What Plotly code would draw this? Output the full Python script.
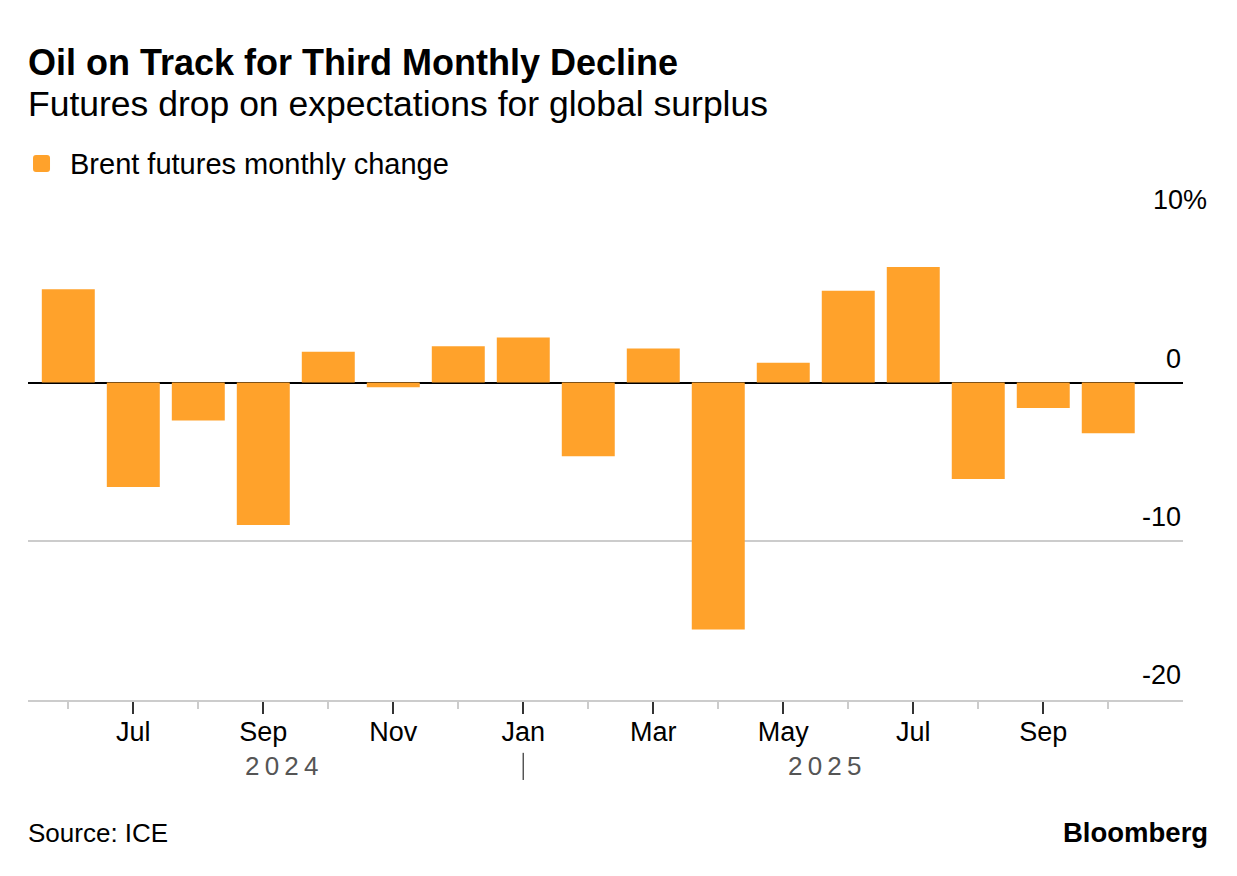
import plotly.graph_objects as go

months = ["2024-06", "2024-07", "2024-08", "2024-09", "2024-10", "2024-11", "2024-12",
          "2025-01", "2025-02", "2025-03", "2025-04", "2025-05", "2025-06", "2025-07",
          "2025-08", "2025-09", "2025-10"]
month_labels = ["Jun", "Jul", "Aug", "Sep", "Oct", "Nov", "Dec",
                "Jan", "Feb", "Mar", "Apr", "May", "Jun", "Jul",
                "Aug", "Sep", "Oct"]
brent_change = [5.9, -6.6, -2.4, -9.0, 1.95, -0.3, 2.3,
                2.85, -4.65, 2.15, -15.6, 1.25, 5.8, 7.3,
                -6.1, -1.6, -3.2]
y_ticks = [10, 0, -10, -20]
y_tick_labels = ["10%", "0", "-10", "-20"]
years = ["2024", "2025"]
year_pos = [3.28, 11.63]

FONT = "Liberation Sans"
ORANGE = "#FFA22B"

x = list(range(len(months)))
fig = go.Figure()
fig.add_trace(go.Bar(x=x, y=brent_change, marker=dict(color=ORANGE, line=dict(width=0)),
                     name="Brent futures monthly change", showlegend=False,
                     customdata=months, hovertemplate="%{customdata}: %{y}%<extra></extra>"))

major = [i for i in x if i % 2 == 1]
minor = [i for i in x if i % 2 == 0]

fig.update_layout(
    width=1237, height=876,
    margin=dict(l=20, r=62, t=216, b=184),
    paper_bgcolor="white", plot_bgcolor="white",
    bargap=0.185,
    font=dict(family=FONT, color="black"),
    xaxis=dict(range=[-0.62, 17.15], tickmode="array", tickvals=major,
               ticktext=[month_labels[i] for i in major],
               ticks="outside", ticklen=12, tickwidth=1.5, tickcolor="#333",
               ticklabelstandoff=-5,
               tickfont=dict(size=27, family=FONT, color="black"),
               showline=True, linecolor="#cccccc", linewidth=1.5,
               showgrid=False, zeroline=False, fixedrange=True,
               minor=dict(tickmode="array", tickvals=minor, ticks="outside",
                          ticklen=7, tickwidth=1.5, tickcolor="#cccccc", showgrid=False)),
    yaxis=dict(range=[-20.06, 10.02], tickmode="array", tickvals=y_ticks,
               showticklabels=False, showgrid=True, gridcolor="#cccccc", gridwidth=1.5,
               zeroline=True, zerolinecolor="black", zerolinewidth=2, fixedrange=True),
)

ann = []
for v, t in zip(y_ticks, y_tick_labels):
    shift = 26 if t.endswith("%") else 0
    ann.append(dict(x=1, xref="paper", y=v, yref="y", text=t, showarrow=False,
                    xanchor="right", yanchor="bottom", yshift=7, xshift=shift,
                    font=dict(size=27, family=FONT, color="black")))
for yr, p in zip(years, year_pos):
    ann.append(dict(x=p, xref="x", y=-0.139, yref="paper", text="\u2009".join(yr), showarrow=False,
                    xanchor="center", yanchor="middle",
                    font=dict(size=26, family=FONT, color="#555555")))
ann += [
    dict(x=-0.002, xref="paper", y=1.340, yref="paper", text="<b>Oil on Track for Third Monthly Decline</b>",
         showarrow=False, xanchor="left", yanchor="middle", font=dict(size=36, family=FONT, color="black")),
    dict(x=-0.002, xref="paper", y=1.252, yref="paper", text="Futures drop on expectations for global surplus",
         showarrow=False, xanchor="left", yanchor="middle", font=dict(size=35.5, family=FONT, color="black")),
    dict(x=0.0346, xref="paper", y=1.127, yref="paper", text="Brent futures monthly change",
         showarrow=False, xanchor="left", yanchor="middle", font=dict(size=29, family=FONT, color="black")),
    dict(x=-0.002, xref="paper", y=-0.279, yref="paper", text="Source: ICE",
         showarrow=False, xanchor="left", yanchor="middle", font=dict(size=26, family=FONT, color="black")),
    dict(x=1.0235, xref="paper", y=-0.279, yref="paper", text="<b>Bloomberg</b>",
         showarrow=False, xanchor="right", yanchor="middle", font=dict(size=27.5, family=FONT, color="black")),
]
fig.update_layout(annotations=ann)

# legend swatch (rounded square) and year separator
r = 3
s = 8.5
path = (f"M {-s+r},{-s} L {s-r},{-s} Q {s},{-s} {s},{-s+r} L {s},{s-r} Q {s},{s} {s-r},{s} "
        f"L {-s+r},{s} Q {-s},{s} {-s},{s-r} L {-s},{-s+r} Q {-s},{-s} {-s+r},{-s} Z")
fig.add_shape(type="path", path=path, xref="paper", yref="paper",
              xsizemode="pixel", ysizemode="pixel", xanchor=0.0117, yanchor=1.127,
              fillcolor=ORANGE, line=dict(width=0))
fig.add_shape(type="line", x0=7, x1=7, xref="x", y0=-0.111, y1=-0.168, yref="paper",
              line=dict(color="#555555", width=1.5))

fig.write_html("out.html")
